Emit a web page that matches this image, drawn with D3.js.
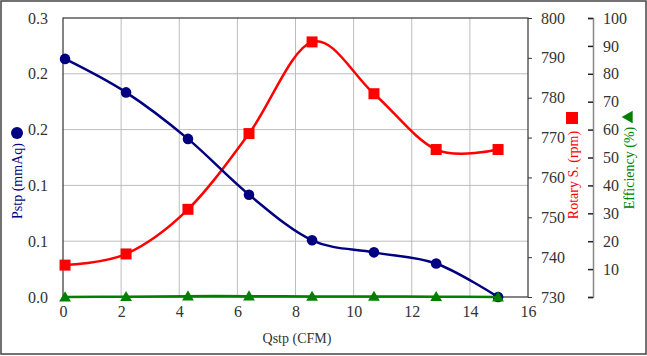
<!DOCTYPE html>
<html><head><meta charset="utf-8">
<script src="https://cdn.jsdelivr.net/npm/d3@7"></script>
<style>body{margin:0;background:#fff}svg{display:block}</style>
</head><body>
<svg id="c" width="647" height="356"></svg>
<script>
const qstp = [0.07, 2.17, 4.3, 6.4, 8.57, 10.7, 12.84, 14.97];
const pstp = [0.256, 0.220, 0.170, 0.110, 0.061, 0.048, 0.036, 0.0];
const rotary = [738, 740.8, 752, 771, 794, 781, 767, 767];
const efficiency = [0.0, 0.1, 0.3, 0.3, 0.2, 0.2, 0.1, 0.0];
const xTicks = [0, 2, 4, 6, 8, 10, 12, 14, 16];
const pTicks = [0, 0.06, 0.12, 0.18, 0.24, 0.3];
const rTicks = [730, 740, 750, 760, 770, 780, 790, 800];
const eTicks = [0, 10, 20, 30, 40, 50, 60, 70, 80, 90, 100];

const FONT = "Liberation Serif, Tinos, Times New Roman, DejaVu Serif, serif";
const svg = d3.select("#c").attr("font-family", FONT);
const L = 63, R = 528, T = 18, B = 297;
const x = d3.scaleLinear().domain([0, 16]).range([L, R]);
const yP = d3.scaleLinear().domain([0, 0.3]).range([B, T]);
const yR = d3.scaleLinear().domain([730, 800]).range([B, T]);
const yE = d3.scaleLinear().domain([0, 100]).range([B, T]);
const navy = "#000080", red = "#ff0000", green = "#008000";

svg.append("rect").attr("x", 1).attr("y", 1).attr("width", 645).attr("height", 353)
  .attr("fill", "none").attr("stroke", "#444").attr("stroke-width", 1.5);

// grid
svg.append("g").selectAll("line").data(xTicks.slice(1, -1)).join("line")
  .attr("x1", d => x(d)).attr("x2", d => x(d)).attr("y1", T).attr("y2", B)
  .attr("stroke", "#bdbdbd").attr("stroke-width", 1);
svg.append("g").selectAll("line").data(pTicks.slice(1, -1)).join("line")
  .attr("y1", d => yP(d)).attr("y2", d => yP(d)).attr("x1", L).attr("x2", R)
  .attr("stroke", "#bdbdbd").attr("stroke-width", 1);

svg.append("rect").attr("x", L).attr("y", T).attr("width", R - L).attr("height", B - T)
  .attr("fill", "none").attr("stroke", "#333").attr("stroke-width", 1.2);

// left axis
const gl = svg.append("g").attr("transform", `translate(${L},0)`)
  .call(d3.axisLeft(yP).tickValues(pTicks).tickFormat(d3.format(".1f")).tickSize(0).tickPadding(15));
gl.select(".domain").remove();
// bottom axis
const gb = svg.append("g").attr("transform", `translate(0,${B})`)
  .call(d3.axisBottom(x).tickValues(xTicks).tickSize(0).tickPadding(9));
gb.select(".domain").remove();
// rotary axis
const gr = svg.append("g").attr("transform", `translate(${R},0)`)
  .call(d3.axisRight(yR).tickValues(rTicks).tickSize(4).tickPadding(9));
gr.select(".domain").remove();
gr.selectAll(".tick line").attr("stroke", "#333");
// efficiency axis
const EX = 593;
const ge = svg.append("g").attr("transform", `translate(${EX},0)`)
  .call(d3.axisRight(yE).tickValues(eTicks).tickSize(-5).tickPadding(10)
    .tickFormat(d => d === 0 ? "" : d));
ge.select(".domain").attr("stroke", "#888").attr("stroke-width", 1.5);
ge.selectAll(".tick line").attr("stroke", "#222").attr("stroke-width", 1.5);

[gl, gb, gr, ge].forEach(g => g.attr("font-family", FONT).attr("font-size", 16));
svg.selectAll(".tick text").attr("fill", "#333");

const curve = d3.curveCardinal.tension(0);
const idx = d3.range(qstp.length);
// rotary
svg.append("path").datum(idx).attr("fill", "none").attr("stroke", red).attr("stroke-width", 2.5)
  .attr("d", d3.line().x(i => x(qstp[i])).y(i => yR(rotary[i])).curve(curve));
svg.append("g").selectAll("rect").data(idx).join("rect")
  .attr("x", i => x(qstp[i]) - 5.5).attr("y", i => yR(rotary[i]) - 5.5)
  .attr("width", 11).attr("height", 11).attr("fill", red);
// pstp
svg.append("path").datum(idx).attr("fill", "none").attr("stroke", navy).attr("stroke-width", 2.5)
  .attr("d", d3.line().x(i => x(qstp[i])).y(i => yP(pstp[i])).curve(curve));
svg.append("g").selectAll("circle").data(idx).join("circle")
  .attr("cx", i => x(qstp[i])).attr("cy", i => yP(pstp[i])).attr("r", 5.3).attr("fill", navy);
// efficiency
svg.append("path").datum(idx).attr("fill", "none").attr("stroke", green).attr("stroke-width", 2.5)
  .attr("d", d3.line().x(i => x(qstp[i])).y(i => yE(efficiency[i])).curve(curve));
const tri = d3.symbol().type(d3.symbolTriangle).size(60);
svg.append("g").selectAll("path").data(idx).join("path")
  .attr("transform", i => `translate(${x(qstp[i])},${yE(efficiency[i]) + 1})`)
  .attr("d", tri).attr("fill", green);

// titles
svg.append("text").attr("x", 297).attr("y", 343).attr("text-anchor", "middle")
  .attr("font-size", 14).attr("fill", "#333").text("Qstp (CFM)");
svg.append("text").attr("transform", "translate(22,181) rotate(-90)").attr("text-anchor", "middle")
  .attr("font-size", 14).attr("fill", navy).text("Pstp (mmAq)");
svg.append("circle").attr("cx", 17).attr("cy", 133).attr("r", 6).attr("fill", navy);

svg.append("text").attr("transform", "translate(578,175) rotate(-90)").attr("text-anchor", "middle")
  .attr("font-size", 14).attr("fill", red).text("Rotary S. (rpm)");
svg.append("rect").attr("x", 566).attr("y", 112).attr("width", 12).attr("height", 12).attr("fill", red);

svg.append("text").attr("transform", "translate(634,168) rotate(-90)").attr("text-anchor", "middle")
  .attr("font-size", 14).attr("fill", green).text("Efficiency (%)");
svg.append("path").attr("transform", "translate(629,117) rotate(-90)")
  .attr("d", d3.symbol().type(d3.symbolTriangle).size(70)()).attr("fill", green);
</script>
</body></html>
